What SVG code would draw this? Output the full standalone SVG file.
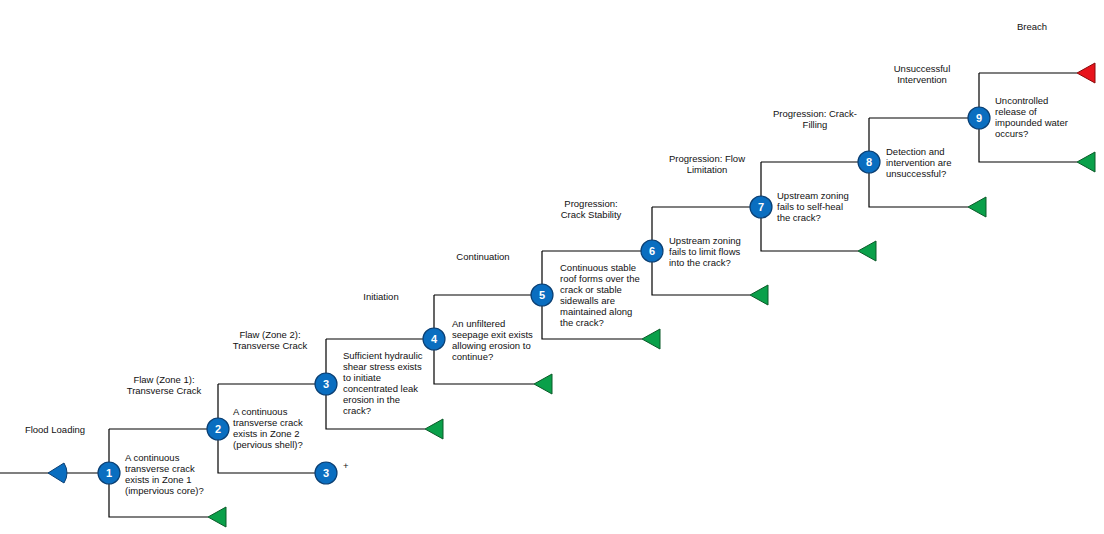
<svg xmlns="http://www.w3.org/2000/svg" width="1104" height="534" viewBox="0 0 1104 534">
<style>
text{font-family:"Liberation Sans",Arial,sans-serif;font-size:9.5px;fill:#111}
.c text,.n text{font-weight:bold;fill:#fff;font-size:11px;text-anchor:middle}
.lab{text-anchor:middle}
line,path.w{stroke:#000;stroke-width:1.2;fill:none}
circle{fill:#0a6ec0;stroke:#0b3f73;stroke-width:1.2}
.g{fill:#0aa04a;stroke:#0a5a28;stroke-width:1}
.r{fill:#e8141c;stroke:#8a0a0a;stroke-width:1}
</style>
<defs>
<polygon id="tri" points="0,0 18,-10 18,10"/>
</defs>
<rect width="1104" height="534" fill="#fff"/>
<g id="connectors">
<line x1="0" y1="473" x2="98" y2="473"/>
<path class="w" d="M109 429V517H208M109 429H218"/>
<path class="w" d="M218 384V473H315M218 384H326"/>
<path class="w" d="M326 339V429H425M326 339H434"/>
<path class="w" d="M434 295V384H534M434 295H542"/>
<path class="w" d="M542 251V339H642M542 251H652"/>
<path class="w" d="M652 207V295H750M652 207H761"/>
<path class="w" d="M761 162V251H858M761 162H869"/>
<path class="w" d="M869 118V207H968M869 118H979"/>
<path class="w" d="M979 73V162H1077M979 73H1077"/>
</g>
<g id="terminals">
<path d="M48 473L64 463Q70 473 64 483Z" fill="#0a6ec0" stroke="#0b3f73"/>
<use href="#tri" x="208" y="517" class="g"/>
<use href="#tri" x="425" y="429" class="g"/>
<use href="#tri" x="534" y="384" class="g"/>
<use href="#tri" x="642" y="339" class="g"/>
<use href="#tri" x="750" y="295" class="g"/>
<use href="#tri" x="858" y="251" class="g"/>
<use href="#tri" x="968" y="207" class="g"/>
<use href="#tri" x="1077" y="162" class="g"/>
<use href="#tri" x="1077" y="73" class="r"/>
</g>
<g id="n1" class="n"><circle cx="109" cy="473" r="11"/><text x="109" y="477">1</text></g>
<g id="n2" class="n"><circle cx="218" cy="429" r="11"/><text x="218" y="433">2</text></g>
<g id="n3" class="n"><circle cx="326" cy="384" r="11"/><text x="326" y="388">3</text></g>
<g id="n3b" class="n"><circle cx="326" cy="473" r="11"/><text x="326" y="477">3</text></g>
<g id="n4" class="n"><circle cx="434" cy="339" r="11"/><text x="434" y="343">4</text></g>
<g id="n5" class="n"><circle cx="542" cy="295" r="11"/><text x="542" y="299">5</text></g>
<g id="n6" class="n"><circle cx="652" cy="251" r="11"/><text x="652" y="255">6</text></g>
<g id="n7" class="n"><circle cx="761" cy="207" r="11"/><text x="761" y="211">7</text></g>
<g id="n8" class="n"><circle cx="869" cy="162" r="11"/><text x="869" y="166">8</text></g>
<g id="n9" class="n"><circle cx="979" cy="118" r="11"/><text x="979" y="122">9</text></g>
<g id="questions">
<text x="125" y="461">A continuous<tspan x="125" dy="11">transverse crack</tspan><tspan x="125" dy="11">exists in Zone 1</tspan><tspan x="125" dy="11">(impervious core)?</tspan></text>
<text x="233" y="415">A continuous<tspan x="233" dy="11">transverse crack</tspan><tspan x="233" dy="11">exists in Zone 2</tspan><tspan x="233" dy="11">(pervious shell)?</tspan></text>
<text x="343" y="359">Sufficient hydraulic<tspan x="343" dy="11">shear stress exists</tspan><tspan x="343" dy="11">to initiate</tspan><tspan x="343" dy="11">concentrated leak</tspan><tspan x="343" dy="11">erosion in the</tspan><tspan x="343" dy="11">crack?</tspan></text>
<text x="452" y="327">An unfiltered<tspan x="452" dy="11">seepage exit exists</tspan><tspan x="452" dy="11">allowing erosion to</tspan><tspan x="452" dy="11">continue?</tspan></text>
<text x="560" y="271">Continuous stable<tspan x="560" dy="11">roof forms over the</tspan><tspan x="560" dy="11">crack or stable</tspan><tspan x="560" dy="11">sidewalls are</tspan><tspan x="560" dy="11">maintained along</tspan><tspan x="560" dy="11">the crack?</tspan></text>
<text x="669" y="244">Upstream zoning<tspan x="669" dy="11">fails to limit flows</tspan><tspan x="669" dy="11">into the crack?</tspan></text>
<text x="777" y="199">Upstream zoning<tspan x="777" dy="11">fails to self-heal</tspan><tspan x="777" dy="11">the crack?</tspan></text>
<text x="886" y="155">Detection and<tspan x="886" dy="11">intervention are</tspan><tspan x="886" dy="11">unsuccessful?</tspan></text>
<text x="995" y="104">Uncontrolled<tspan x="995" dy="11">release of</tspan><tspan x="995" dy="11">impounded water</tspan><tspan x="995" dy="11">occurs?</tspan></text>
<text x="343" y="469">+</text>
</g>
<g id="stages" class="lab">
<text x="55" y="433">Flood Loading</text>
<text x="164" y="383">Flaw (Zone 1):<tspan x="164" dy="11">Transverse Crack</tspan></text>
<text x="270" y="338">Flaw (Zone 2):<tspan x="270" dy="11">Transverse Crack</tspan></text>
<text x="381" y="300">Initiation</text>
<text x="483" y="260">Continuation</text>
<text x="591" y="207">Progression:<tspan x="591" dy="11">Crack Stability</tspan></text>
<text x="707" y="162">Progression: Flow<tspan x="707" dy="11">Limitation</tspan></text>
<text x="815" y="117">Progression: Crack-<tspan x="815" dy="11">Filling</tspan></text>
<text x="922" y="72">Unsuccessful<tspan x="922" dy="11">Intervention</tspan></text>
<text x="1032" y="30">Breach</text>
</g>
</svg>
